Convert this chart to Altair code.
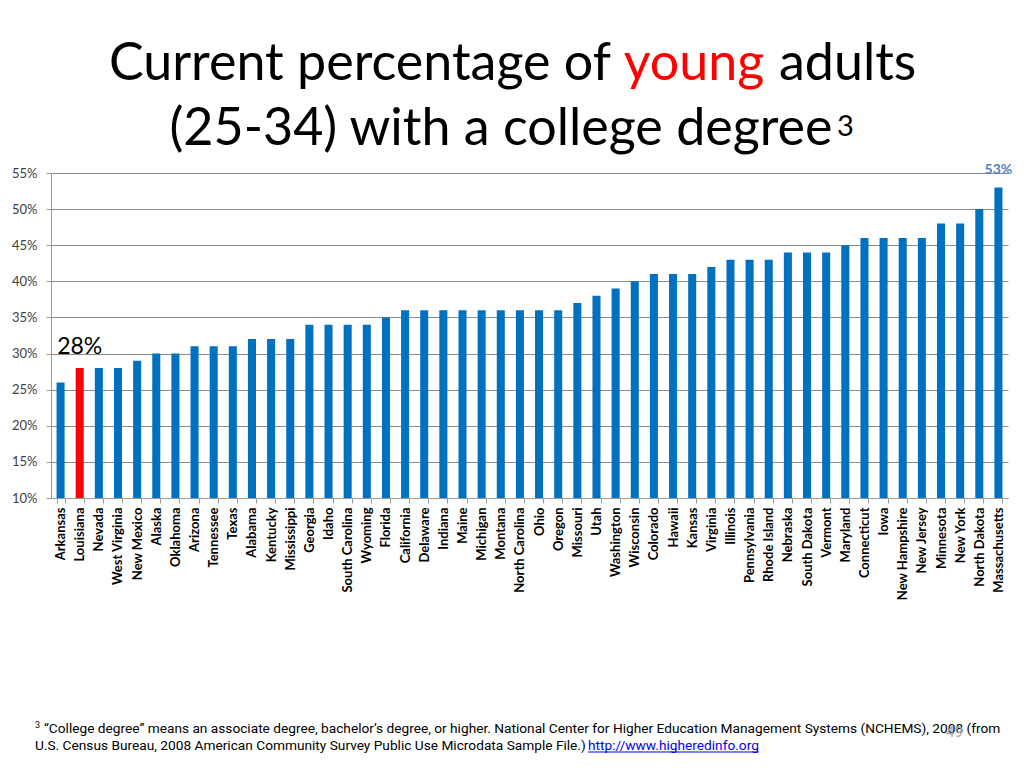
import altair as alt
import pandas as pd

states = ["Arkansas", "Louisiana", "Nevada", "West Virginia", "New Mexico", "Alaska", "Oklahoma",
          "Arizona", "Tennessee", "Texas", "Alabama", "Kentucky", "Mississippi", "Georgia", "Idaho",
          "South Carolina", "Wyoming", "Florida", "California", "Delaware", "Indiana", "Maine",
          "Michigan", "Montana", "North Carolina", "Ohio", "Oregon", "Missouri", "Utah", "Washington",
          "Wisconsin", "Colorado", "Hawaii", "Kansas", "Virginia", "Illinois", "Pennsylvania",
          "Rhode Island", "Nebraska", "South Dakota", "Vermont", "Maryland", "Connecticut", "Iowa",
          "New Hampshire", "New Jersey", "Minnesota", "New York", "North Dakota", "Massachusetts"]
values = [26, 28, 28, 28, 29, 30, 30,
          31, 31, 31, 32, 32, 32, 34, 34,
          34, 34, 35, 36, 36, 36, 36,
          36, 36, 36, 36, 36, 37, 38, 39,
          40, 41, 41, 41, 42, 43, 43,
          43, 44, 44, 44, 45, 46, 46,
          46, 46, 48, 48, 50, 53]
y_ticks = [10, 15, 20, 25, 30, 35, 40, 45, 50, 55]
highlight = "Louisiana"
top_state = "Massachusetts"

df = pd.DataFrame({"state": states, "value": values})

FONT = "Lato"
W, H = 957, 325

x = alt.X("state:N", sort=states, title=None,
          scale=alt.Scale(paddingInner=0.58, paddingOuter=0.29),
          axis=alt.Axis(labelAngle=-90, labelFont=FONT, labelFontWeight="bold", labelFontSize=13,
                        labelColor="#000000", domainColor="#9a9a9a", tickColor="#9a9a9a",
                        tickBand="extent", tickSize=5, labelPadding=4, labelBaseline="middle",
                        labelOverlap=False, grid=False))
y = alt.Y("value:Q", title=None,
          scale=alt.Scale(domain=[10, 55], zero=False, nice=False),
          axis=alt.Axis(values=y_ticks, labelExpr="datum.value + '%'", labelFont=FONT,
                        labelFontSize=13, labelColor="#404040", domainColor="#9a9a9a",
                        tickColor="#9a9a9a", tickSize=5, labelPadding=9, labelOverlap=False,
                        labelFlush=False, grid=True, gridColor="#8c8c8c", gridWidth=1))

base = alt.Chart(df).transform_calculate(label="datum.value + '%'").encode(x=x, y=y)

bars = base.mark_bar().encode(
    y2=alt.datum(10),
    color=alt.condition(alt.datum.state == highlight, alt.value("#ff0000"), alt.value("#0070c0")),
)

lbl28 = base.transform_filter(alt.datum.state == highlight).mark_text(
    font=FONT, fontSize=23, color="#000000", baseline="bottom", dy=-9
).encode(text=alt.Text("label:N"))

lbl53 = base.transform_filter(alt.datum.state == top_state).mark_text(
    font=FONT, fontSize=14, fontWeight="bold", color="#4f7fbf", baseline="bottom", dy=-10
).encode(text=alt.Text("label:N"))

def txt(s, xp, yp, size, color="#000000", align="left", weight="normal", font=FONT):
    return alt.Chart(pd.DataFrame({"t": [s]})).mark_text(
        x=xp, y=yp, fontSize=size, color=color, align=align, baseline="alphabetic",
        fontWeight=weight, font=font
    ).encode(text="t:N")

title_parts = [
    txt("Current percentage of", 560, -93, 52, align="right"),
    txt("young", 643, -93, 52, color="#ff0000", align="center"),
    txt("adults", 728, -93, 52, align="left"),
    txt("(25-34) with a college degree", 450, -28, 52, align="center"),
    txt("3", 786, -37, 29, align="left"),
]

FN = "Liberation Sans Narrow, Roboto, sans-serif"
foot = [
    txt("3", -16, 555, 9, font=FN),
    txt("\u201cCollege degree\u201d means an associate degree, bachelor\u2019s degree, or higher. National Center for Higher Education Management Systems (NCHEMS), 2008 (from",
        -7, 560, 13.7, font=FN),
    txt("U.S. Census Bureau, 2008 American Community Survey Public Use Microdata Sample File.)",
        -16, 577, 13.7, font=FN),
    txt("http://www.higheredinfo.org", 537, 577, 13.7, color="#0000ee", font=FN),
    txt("49", 895, 564, 15, color="#a6a6a6", font=FN),
]
underline = alt.Chart(pd.DataFrame({"a": [0]})).mark_rule(color="#0000ee", strokeWidth=1).encode(
    x=alt.value(537), x2=alt.value(708), y=alt.value(579))

chart = alt.layer(bars, lbl28, lbl53, *title_parts, *foot, underline).properties(
    width=W, height=H,
    autosize=alt.AutoSizeParams(type="none"),
    padding={"left": 43, "top": 165, "right": 5, "bottom": 255},
).configure_view(stroke=None)

chart.save("out.html", embed_options={"renderer": "svg", "actions": False})
